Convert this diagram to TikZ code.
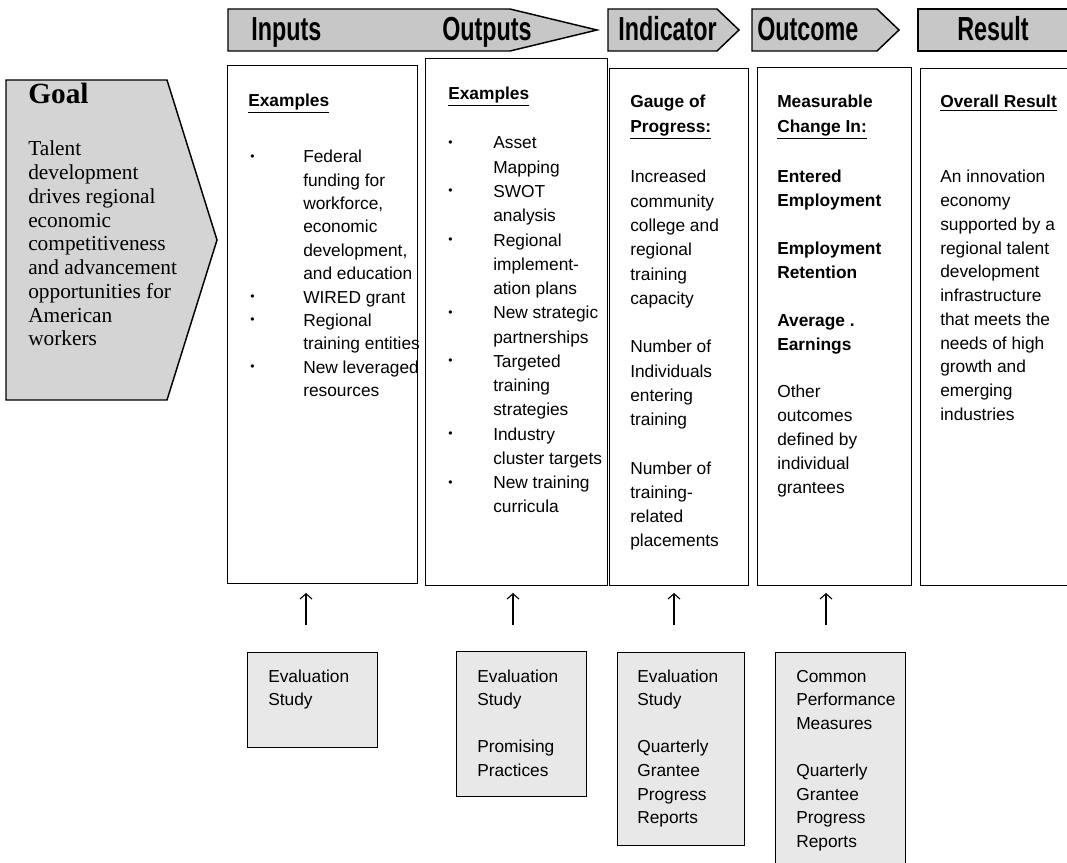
\documentclass[tikz,border=0pt]{standalone}
\usepackage{fontspec}
\setmainfont{Liberation Sans}
\newfontfamily\goalfont{Liberation Serif}
\newfontfamily\banfont[FakeStretch=0.7]{Liberation Sans}
\usetikzlibrary{arrows.meta}
\newcommand\blk[2]{\vtop{\baselineskip=#1\lineskiplimit=-\maxdimen\halign{##\hfil\cr#2\crcr}}}
\newcommand\bblk[3]{\vtop{\baselineskip=#1\lineskiplimit=-\maxdimen\halign{\hbox to #2{##\hfil}&##\hfil\cr#3\crcr}}}
\newcommand\bul{\raisebox{0.15em}{\scalebox{0.7}{•}}}
\tikzset{
  txt/.style={inner sep=0pt, anchor=base west, font=\fontsize{13}{17.5}\selectfont},
  colbox/.style={draw, line width=1.1pt, inner sep=0pt, anchor=north west},
  srcbox/.style={draw, line width=1.1pt, fill=black!9, inner sep=0pt, anchor=north west},
  banner/.style={draw, line width=1.1pt, fill=black!22},
  bantxt/.style={inner sep=0pt, anchor=base west, font=\banfont\bfseries\fontsize{25}{28}\selectfont},
  uparrow/.style={line width=0.8pt, -{Straight Barb[length=4pt,width=9pt]}},
}
\begin{document}
\begin{tikzpicture}[x=0.75pt, y=-0.75pt]
\useasboundingbox (0,0) rectangle (1067,863);
\clip (0,0) rectangle (1067,863);
% banner
\path[banner] (228,9) -- (510,9) -- (597,30) -- (510,51) -- (228,51) -- cycle;
\path[banner] (608,9) -- (717,9) -- (739,30) -- (717,51) -- (608,51) -- cycle;
\path[banner] (752,9) -- (877,9) -- (899,30) -- (877,51) -- (752,51) -- cycle;
\path[banner] (918,9) -- (1080,9) -- (1080,51) -- (918,51) -- cycle;
\node[bantxt] (tInputs) at (251,41) {Inputs};
\node[bantxt] (tOutputs) at (442,41) {Outputs};
\node[bantxt] (tIndicator) at (618,41) {Indicator};
\node[bantxt] (tOutcome) at (757,41) {Outcome};
\node[bantxt] (tResult) at (957,41) {Result};
% goal
\path[draw, line width=1.1pt, fill=black!17] (6,80) -- (167,80) -- (217,240) -- (167,400) -- (6,400) -- cycle;
\node[inner sep=0pt, anchor=base west, font=\goalfont\bfseries\fontsize{22}{26}\selectfont] (goal) at (28,104) {Goal};
\node[inner sep=0pt, anchor=base west, font=\goalfont\fontsize{16}{17.8}\selectfont] (goaltxt) at (28,156)
  {\blk{17.8pt}{Talent\cr development\cr drives regional\cr economic\cr competitiveness\cr and advancement\cr opportunities for\cr American\cr workers}};
% columns
\node[colbox, minimum width=142.5pt, minimum height=388.5pt] (cInputs) at (227,65) {};
\node[colbox, minimum width=136.5pt, minimum height=395.25pt] (cOutputs) at (425,58) {};
\node[colbox, minimum width=104.25pt, minimum height=387.75pt] (cIndicator) at (609,68) {};
\node[colbox, minimum width=115.5pt, minimum height=388.5pt] (cOutcome) at (757,67) {};
\node[colbox, minimum width=130pt, minimum height=387.75pt] (cResult) at (920,68) {};
% inputs text
\node[txt] (inHead) at (248,107) {\bfseries\underline{Examples}};
\node[txt] (inList) at (250,163) {\bblk{17.5pt}{39.75pt}{%
\bul&Federal\cr &funding for\cr &workforce,\cr &economic\cr &development,\cr &and education\cr
\bul&WIRED grant\cr \bul&Regional\cr &training entities\cr \bul&New leveraged\cr &resources}};
% outputs text
\node[txt] (outHead) at (448,100) {\bfseries\underline{Examples}};
\node[txt] (outList) at (448,149) {\bblk{18.2pt}{33.75pt}{%
\bul&Asset\cr &Mapping\cr \bul&SWOT\cr &analysis\cr \bul&Regional\cr &implement-\cr &ation plans\cr
\bul&New strategic\cr &partnerships\cr \bul&Targeted\cr &training\cr &strategies\cr
\bul&Industry\cr &cluster targets\cr \bul&New training\cr &curricula}};
% indicator text
\node[txt] (indHead) at (630,108) {\bfseries\blk{18.75pt}{Gauge of\cr \underline{Progress:}}};
\node[txt] (indList) at (630,183) {\blk{18.2pt}{Increased\cr community\cr college and\cr regional\cr training\cr capacity\cr
\cr Number of\cr Individuals\cr entering\cr training\cr \cr Number of\cr training-\cr related\cr placements}};
% outcome text
\node[txt] (ocHead) at (777,108) {\bfseries\blk{18.75pt}{Measurable\cr \underline{Change In:}}};
\node[txt] (ocList) at (777,183) {\blk{17.9pt}{\bfseries Entered\cr \bfseries Employment\cr \cr \bfseries Employment\cr \bfseries Retention\cr
\cr \bfseries Average .\cr \bfseries Earnings\cr \cr Other\cr outcomes\cr defined by\cr individual\cr grantees}};
% result text
\node[txt] (resHead) at (940,108) {\bfseries\underline{Overall Result}};
\node[txt] (resList) at (940,183) {\blk{17.8pt}{An innovation\cr economy\cr supported by a\cr regional talent\cr development\cr
infrastructure\cr that meets the\cr needs of high\cr growth and\cr emerging\cr industries}};
% source boxes
\node[srcbox, minimum width=97.5pt, minimum height=71.25pt] (sInputs) at (247,652) {};
\node[srcbox, minimum width=97.5pt, minimum height=108.75pt] (sOutputs) at (456,651) {};
\node[srcbox, minimum width=95.25pt, minimum height=144.75pt] (sIndicator) at (617,652) {};
\node[srcbox, minimum width=97.5pt, minimum height=180pt] (sOutcome) at (775,652) {};
\node[txt] (s1) at (268,682) {\blk{17.7pt}{Evaluation\cr Study}};
\node[txt] (s2) at (477,682) {\blk{17.7pt}{Evaluation\cr Study\cr \cr Promising\cr Practices}};
\node[txt] (s3) at (637,682) {\blk{17.7pt}{Evaluation\cr Study\cr \cr Quarterly\cr Grantee\cr Progress\cr Reports}};
\node[txt] (s4) at (796,682) {\blk{17.7pt}{Common\cr Performance\cr Measures\cr \cr Quarterly\cr Grantee\cr Progress\cr Reports}};
% arrows
\coordinate (a1s) at (306,625); \coordinate (a1e) at (306,593);
\coordinate (a2s) at (513,625); \coordinate (a2e) at (513,593);
\coordinate (a3s) at (674,625); \coordinate (a3e) at (674,593);
\coordinate (a4s) at (826,625); \coordinate (a4e) at (826,593);
\draw[uparrow] (a1s) -- (a1e);
\draw[uparrow] (a2s) -- (a2e);
\draw[uparrow] (a3s) -- (a3e);
\draw[uparrow] (a4s) -- (a4e);
\end{tikzpicture}
\end{document}
